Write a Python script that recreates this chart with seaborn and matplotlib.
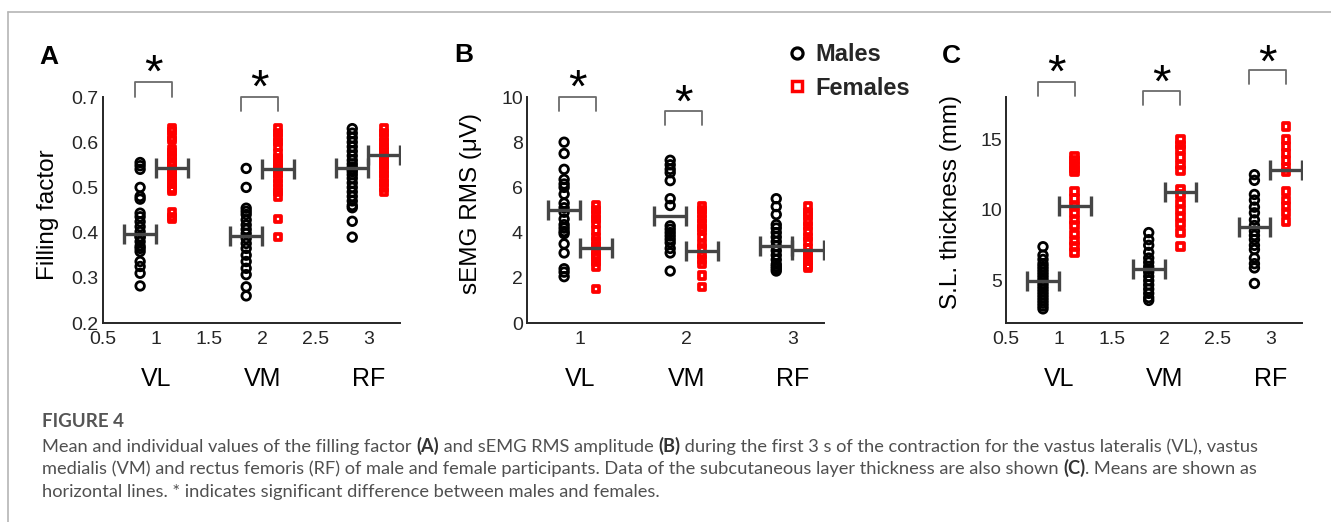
import numpy as np
import pandas as pd
import matplotlib
matplotlib.use("Agg")
import matplotlib.pyplot as plt
import seaborn as sns
from matplotlib.lines import Line2D
from matplotlib.transforms import blended_transform_factory

sns.set_theme(style="white")
plt.rcParams["font.family"] = ["Liberation Sans", "DejaVu Sans"]

# ---------------- data ----------------
muscles = ["VL", "VM", "RF"]
sexes = ["Males", "Females"]

# (A) filling factor
ff_males_VL = [0.555, 0.548, 0.54, 0.50, 0.48, 0.474, 0.443, 0.435, 0.424, 0.413,
               0.402, 0.391, 0.38, 0.37, 0.358, 0.336, 0.325, 0.31, 0.282, 0.365, 0.39]
ff_females_VL = [0.63, 0.625, 0.61, 0.605, 0.585, 0.578, 0.57, 0.565, 0.555, 0.548,
                 0.54, 0.532, 0.524, 0.515, 0.507, 0.498, 0.493, 0.444, 0.435, 0.43]
ff_males_VM = [0.542, 0.50, 0.454, 0.447, 0.44, 0.428, 0.417, 0.407, 0.398, 0.387,
               0.376, 0.365, 0.35, 0.336, 0.321, 0.307, 0.28, 0.26]
ff_females_VM = [0.63, 0.62, 0.61, 0.60, 0.59, 0.575, 0.565, 0.556, 0.548, 0.54,
                 0.53, 0.52, 0.51, 0.498, 0.49, 0.48, 0.43, 0.39]
ff_males_RF = [0.63, 0.62, 0.61, 0.60, 0.59, 0.58, 0.57, 0.56, 0.552, 0.545, 0.54,
               0.535, 0.528, 0.52, 0.51, 0.50, 0.49, 0.48, 0.47, 0.46, 0.455, 0.425, 0.39]
ff_females_RF = [0.63, 0.62, 0.61, 0.60, 0.59, 0.585, 0.578, 0.57, 0.565, 0.56,
                 0.555, 0.548, 0.54, 0.53, 0.52, 0.51, 0.50, 0.49]
ff_mean_males = [0.398, 0.393, 0.543]
ff_mean_females = [0.543, 0.540, 0.571]

# (B) sEMG RMS (uV)
rms_males_VL = [8.0, 7.5, 6.8, 6.35, 6.15, 6.0, 5.7, 5.3, 5.1, 4.9, 4.6, 4.35, 4.2,
                4.05, 3.95, 3.5, 3.1, 2.4, 2.25, 2.05]
rms_females_VL = [5.2, 5.0, 4.8, 4.6, 4.4, 4.1, 3.8, 3.6, 3.4, 3.2, 3.0, 2.9, 2.7,
                  2.5, 1.5]
rms_males_VM = [7.2, 7.0, 6.8, 6.65, 6.3, 5.5, 5.2, 4.3, 4.15, 4.0, 3.85, 3.7, 3.55,
                3.3, 3.1, 2.3]
rms_females_VM = [5.15, 5.0, 4.85, 4.6, 4.4, 4.2, 4.1, 3.8, 3.5, 3.3, 3.0, 2.8, 2.6,
                  2.1, 1.6]
rms_males_RF = [5.5, 5.15, 4.8, 4.35, 4.2, 4.0, 3.8, 3.6, 3.4, 3.2, 3.0, 2.8, 2.6,
                2.5, 2.4, 2.3]
rms_females_RF = [5.15, 4.9, 4.75, 4.5, 4.3, 4.05, 3.8, 3.6, 3.3, 3.1, 2.9, 2.75,
                  2.55, 2.45]
rms_mean_males = [5.0, 4.75, 3.4]
rms_mean_females = [3.3, 3.2, 3.25]

# (C) subcutaneous layer thickness (mm)
sl_males_VL = [7.4, 6.8, 6.5, 6.2, 6.0, 5.8, 5.6, 5.4, 5.2, 5.0, 4.8, 4.6, 4.4, 4.2,
               4.0, 3.8, 3.6, 3.4, 3.2, 3.0]
sl_females_VL = [13.8, 13.5, 13.2, 12.9, 12.7, 11.3, 10.8, 10.3, 9.8, 9.3, 8.9, 8.3,
                 7.8, 7.4, 7.0]
sl_males_VM = [8.4, 7.9, 7.5, 7.0, 6.6, 6.3, 6.0, 5.8, 5.6, 5.3, 5.0, 4.7, 4.4, 4.1,
               3.8, 3.6]
sl_females_VM = [15.0, 14.6, 14.3, 13.7, 13.2, 12.8, 11.5, 11.1, 10.5, 10.0, 9.5,
                 9.0, 8.4, 7.4]
sl_males_RF = [12.5, 12.1, 11.1, 10.7, 10.2, 9.8, 9.3, 8.9, 8.5, 8.2, 7.9, 7.5, 7.2,
               6.6, 6.2, 5.9, 4.8]
sl_females_RF = [15.9, 15.0, 14.5, 14.0, 13.5, 13.0, 12.7, 11.3, 10.7, 10.3, 9.8, 9.2]
sl_mean_males = [4.95, 5.8, 8.8]
sl_mean_females = [10.3, 11.25, 12.85]

# ---------------- figure ----------------
W, H = 1331, 522
fig = plt.figure(figsize=(W / 100, H / 100), dpi=100)
fig.patch.set_facecolor("white")


def px_axes(l, r, t, b):
    return fig.add_axes([l / W, 1 - b / H, (r - l) / W, (b - t) / H])


axA = px_axes(103, 400, 97, 323)
axB = px_axes(527, 824, 97, 323)
axC = px_axes(1006, 1302, 97, 323)

OFF = 0.15
INK = "#262626"
MEANC = "#454545"


def draw_panel(ax, males, females, m_means, f_means):
    rows = []
    for i, (mv, fv) in enumerate(zip(males, females)):
        rows += [(i + 1 - OFF, v, "Males") for v in mv]
        rows += [(i + 1 + OFF, v, "Females") for v in fv]
    df = pd.DataFrame(rows, columns=["x", "value", "sex"])
    sns.scatterplot(data=df[df.sex == "Males"], x="x", y="value", marker="o",
                    s=38, color="black", ax=ax, legend=False, zorder=2)
    c = ax.collections[-1]
    c.set_facecolor("none"); c.set_edgecolor("black"); c.set_linewidth(2.0)
    sns.scatterplot(data=df[df.sex == "Females"], x="x", y="value", marker="s",
                    s=22, color="red", ax=ax, legend=False, zorder=2)
    c = ax.collections[-1]
    c.set_facecolor("none"); c.set_edgecolor("#ff0000"); c.set_linewidth(2.7)
    pos = np.arange(1, len(males) + 1)
    ax.errorbar(pos - OFF, m_means, xerr=OFF, fmt="none", ecolor=MEANC,
                elinewidth=2.4, capsize=7.5, capthick=2.4, zorder=4)
    ax.errorbar(pos + OFF, f_means, xerr=OFF, fmt="none", ecolor=MEANC,
                elinewidth=2.4, capsize=7.5, capthick=2.4, zorder=4)


def style_axes(ax, ylim, yticks, ylabels, xticks, xlabels, ylabel, letter,
               letter_px, ylabel_px):
    ax.set_xlim(0.5, 3.3)
    ax.set_ylim(*ylim)
    ax.set_xticks(xticks, xlabels)
    ax.set_yticks(yticks, ylabels)
    ax.set_xlabel("")
    ax.set_ylabel("")
    for s in ["top", "right"]:
        ax.spines[s].set_visible(False)
    for s in ["left", "bottom"]:
        ax.spines[s].set_color(INK)
        ax.spines[s].set_linewidth(1.4)
    ax.tick_params(axis="both", direction="in", length=4, width=1.2,
                   colors=INK, labelsize=14, labelcolor=INK)
    ax.tick_params(axis="x", pad=6)
    ax.tick_params(axis="y", pad=3)
    ax.set_facecolor("white")
    tr = blended_transform_factory(ax.transData, ax.transAxes)
    y_cat = (323 - 379) / 226
    for i, m in enumerate(muscles):
        ax.text(i + 1, y_cat, m, transform=tr, ha="center", va="center",
                fontsize=18, color="black", clip_on=False)
    # y label
    lx, ly = ylabel_px
    fig.text(lx / W, 1 - ly / H, ylabel, rotation=90, ha="center",
             va="center", fontsize=17.5, color="black")
    # panel letter
    fig.text(letter_px[0] / W, 1 - letter_px[1] / H, letter, ha="left",
             va="top", fontsize=19, fontweight="bold", color="black")


def bracket(ax, i, y_top, y_leg, y_star):
    x0, x1 = i + 1 - 0.2, i + 1 + 0.15
    ax.plot([x0, x0, x1, x1], [y_leg, y_top, y_top, y_leg], color="#6b6b6b",
            lw=1.3, clip_on=False, zorder=5)
    ax.text((x0 + x1) / 2, y_star, "*", ha="center", va="center_baseline",
            fontsize=34, color="black", clip_on=False)


draw_panel(axA, [ff_males_VL, ff_males_VM, ff_males_RF],
           [ff_females_VL, ff_females_VM, ff_females_RF],
           ff_mean_males, ff_mean_females)
draw_panel(axB, [rms_males_VL, rms_males_VM, rms_males_RF],
           [rms_females_VL, rms_females_VM, rms_females_RF],
           rms_mean_males, rms_mean_females)
draw_panel(axC, [sl_males_VL, sl_males_VM, sl_males_RF],
           [sl_females_VL, sl_females_VM, sl_females_RF],
           sl_mean_males, sl_mean_females)

x_full = [0.5, 1, 1.5, 2, 2.5, 3]
x_full_lbl = ["0.5", "1", "1.5", "2", "2.5", "3"]
style_axes(axA, (0.2, 0.7), [0.2, 0.3, 0.4, 0.5, 0.6, 0.7],
           ["0.2", "0.3", "0.4", "0.5", "0.6", "0.7"], x_full, x_full_lbl,
           "Filling factor", "A", (39, 45), (48, 215))
style_axes(axB, (0, 10), [0, 2, 4, 6, 8, 10],
           ["0", "2", "4", "6", "8", "10"], [1, 2, 3], ["1", "2", "3"],
           "sEMG RMS (\u03bcV)", "B", (454, 43), (471, 203))
style_axes(axC, (2, 18), [5, 10, 15], ["5", "10", "15"], x_full, x_full_lbl,
           "S.L. thickness (mm)", "C", (942, 44), (951, 202))

bracket(axA, 0, 0.733, 0.700, 0.760)
bracket(axA, 1, 0.700, 0.669, 0.728)
bracket(axB, 0, 10.0, 9.4, 10.55)
bracket(axB, 1, 9.4, 8.76, 9.9)
bracket(axC, 0, 19.06, 18.05, 19.95)
bracket(axC, 1, 18.4, 17.4, 19.25)
bracket(axC, 2, 19.9, 18.9, 20.65)

# legend
handles = [Line2D([], [], ls="none", marker="o", ms=8, mfc="none", mec="black",
                  mew=2.3),
           Line2D([], [], ls="none", marker="s", ms=7.5, mfc="none", mec="#ff0000",
                  mew=2.5)]
fig.legend(handles, sexes, loc="upper left", bbox_to_anchor=(786 / W, 1 - 43 / H),
           frameon=False, handlelength=0.9, handletextpad=0.35,
           labelspacing=0.45, borderpad=0, borderaxespad=0,
           prop={"family": "Liberation Sans", "weight": "bold", "size": 17})

# frame lines around the figure block
fig.add_artist(Line2D([8 / W, 1], [1 - 12 / H, 1 - 12 / H], color="#b5b5b5",
                      lw=1.2))
fig.add_artist(Line2D([8 / W, 8 / W], [0, 1 - 12 / H], color="#b5b5b5", lw=1.2))

# caption
CAP_FONT = ["Lato", "DejaVu Sans"]
CAP_GREY = "#505050"
fig.text(42 / W, 1 - 427 / H, "FIGURE 4", ha="left", va="baseline",
         fontsize=13.5, fontweight="bold", color="#555555", family=CAP_FONT)

cap_lines = [
    [("Mean and individual values of the filling factor ", False), ("(A)", True),
     (" and sEMG RMS amplitude ", False), ("(B)", True),
     (" during the first 3 s of the contraction for the vastus lateralis (VL), vastus",
      False)],
    [("medialis (VM) and rectus femoris (RF) of male and female participants. Data of "
      "the subcutaneous layer thickness are also shown ", False), ("(C)", True),
     (". Means are shown as", False)],
    [("horizontal lines. * indicates significant difference between males and females.",
      False)],
]
cap_base = [452, 474, 497]
renderer = fig.canvas.get_renderer()


def place_line(pieces, x0, ybase, size):
    x = x0
    arts = []
    for txt, bold in pieces:
        t = fig.text(x / W, 1 - ybase / H, txt, ha="left", va="baseline",
                     fontsize=size, family=CAP_FONT,
                     fontweight="bold" if bold else "normal",
                     color="#333333" if bold else CAP_GREY)
        bb = t.get_window_extent(renderer)
        x = bb.x1
        arts.append(t)
    return x, arts


# fit the caption size so that the first line spans its width
size = 12.0
end, arts = place_line(cap_lines[0], 42, cap_base[0], size)
for a in arts:
    a.remove()
size = size * (1258 - 42) / (end - 42)
for line, yb in zip(cap_lines, cap_base):
    place_line(line, 42, yb, size)

fig.savefig("out.png", dpi=100, facecolor="white")
